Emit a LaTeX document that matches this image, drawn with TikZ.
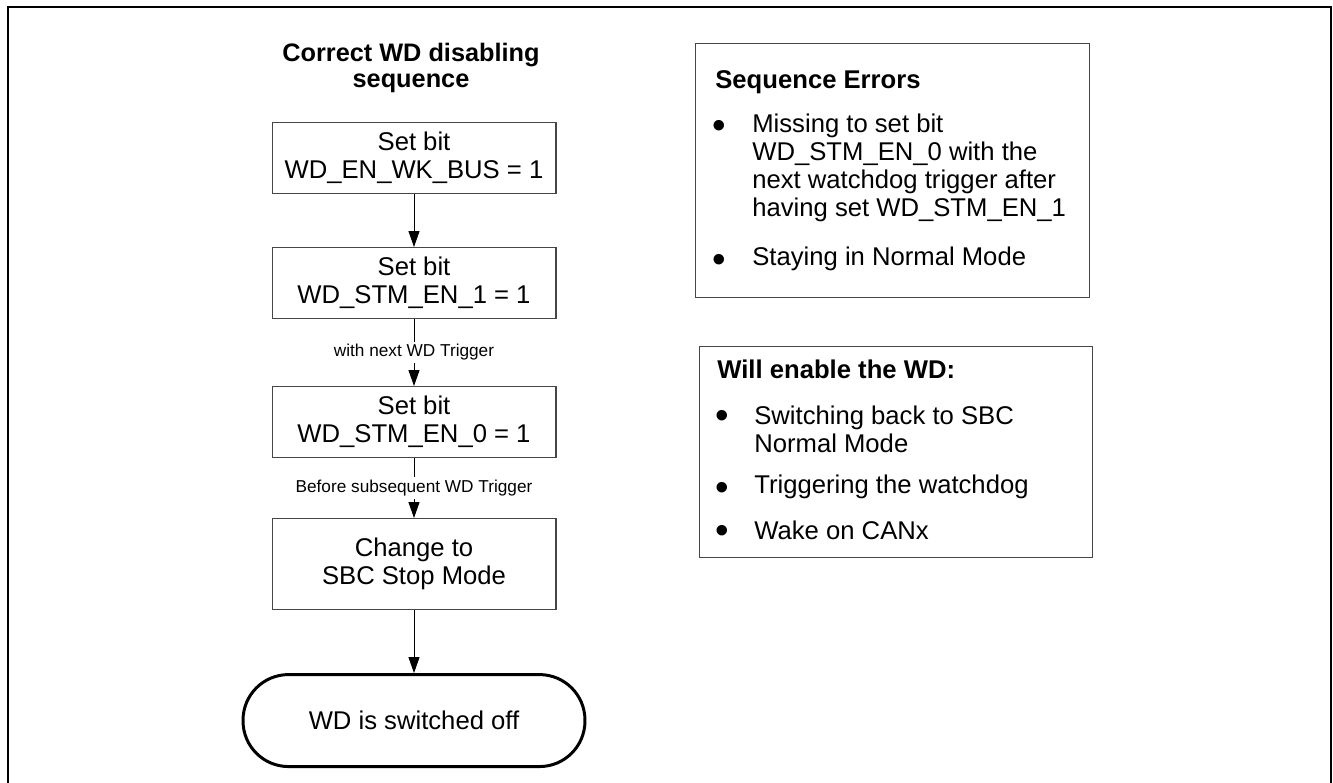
\documentclass[tikz,border=0pt]{standalone}
\usepackage{fontspec}
\setmainfont{Liberation Sans}
\definecolor{cinzaBorda}{RGB}{70,70,70}
\usepackage{tikz}
\usetikzlibrary{arrows.meta,positioning}
\tikzset{
  bloco/.style={rectangle, draw=cinzaBorda, line width=0.6pt,
                minimum width=5.68cm, minimum height=1.42cm, inner sep=0pt,
                align=center, font=\fontsize{14.6pt}{16pt}\selectfont},
  terminal/.style={rectangle, draw=black, line width=1.7pt, rounded corners=0.91cm,
                   minimum width=6.84cm, minimum height=1.84cm,
                   align=center, font=\fontsize{14.6pt}{16pt}\selectfont},
  quadro/.style={rectangle, draw=cinzaBorda, line width=0.6pt, anchor=north west, inner sep=0pt},
  texto/.style={anchor=west, align=left, inner sep=0pt, font=\fontsize{14.6pt}{16pt}\selectfont},
  marcador/.style={inner sep=0pt, font=\fontsize{22pt}{22pt}\selectfont},
  rotulo/.style={fill=white, inner sep=1.5pt, font=\fontsize{9.8pt}{11pt}\selectfont},
  seta/.style={-{Triangle[length=0.32cm,width=0.22cm]}, line width=0.55pt, black},
}
\begin{document}
\begin{tikzpicture}[x=0.02cm, y=-0.02cm]
  \useasboundingbox (0,0) rectangle (1333,783);
  \draw[line width=1.1pt] (8,783) -- (8,7) -- (1331,7) -- (1331,783);

  % sequencia correta
  \node[align=center, font=\fontsize{14.4pt}{14.8pt}\selectfont\bfseries] (titulo) at (411,68) {Correct WD disabling\\sequence};
  \node[bloco] (b1) at (414,158) {Set bit\\WD\_EN\_WK\_BUS = 1};
  \node[bloco, below=1.06cm of b1] (b2) {Set bit\\WD\_STM\_EN\_1 = 1};
  \node[bloco, below=1.34cm of b2] (b3) {Set bit\\WD\_STM\_EN\_0 = 1};
  \node[bloco, minimum height=1.82cm, below=1.2cm of b3] (b4) {Change to\\SBC Stop Mode};
  \node[terminal, below=1.26cm of b4] (fim) {WD is switched off};
  \draw[seta] (b1)--(b2);
  \draw[seta] (b2)-- node[rotulo]{with next WD Trigger} (b3);
  \draw[seta] (b3)-- node[rotulo]{Before subsequent WD Trigger} (b4);
  \draw[seta] (b4)--(fim);

  % erros
  \node[quadro, minimum width=7.88cm, minimum height=5.08cm] (erros) at (695,43) {};
  \node[texto, font=\fontsize{14.6pt}{16pt}\selectfont\bfseries] (errostit) at (715,82) {Sequence Errors};
  \node[marcador] (m1) at (719,129) {•};
  \node[texto] (e1) at (752,168) {Missing to set bit\\WD\_STM\_EN\_0 with the\\next watchdog trigger after\\having set WD\_STM\_EN\_1};
  \node[marcador] (m2) at (719,263) {•};
  \node[texto] (e2) at (752,259) {Staying in Normal Mode};

  % habilita o WD
  \node[quadro, minimum width=7.86cm, minimum height=4.22cm] (habilita) at (699,346) {};
  \node[texto, font=\fontsize{14.6pt}{16pt}\selectfont\bfseries] (habtit) at (717,369) {Will enable the WD:};
  \node[marcador] (m3) at (722,419) {•};
  \node[texto] (h1) at (754,429) {Switching back to SBC\\Normal Mode};
  \node[marcador] (m4) at (722,491) {•};
  \node[texto] (h2) at (754,487) {Triggering the watchdog};
  \node[marcador] (m5) at (722,534) {•};
  \node[texto] (h3) at (754,530) {Wake on CANx};
\end{tikzpicture}
\end{document}
